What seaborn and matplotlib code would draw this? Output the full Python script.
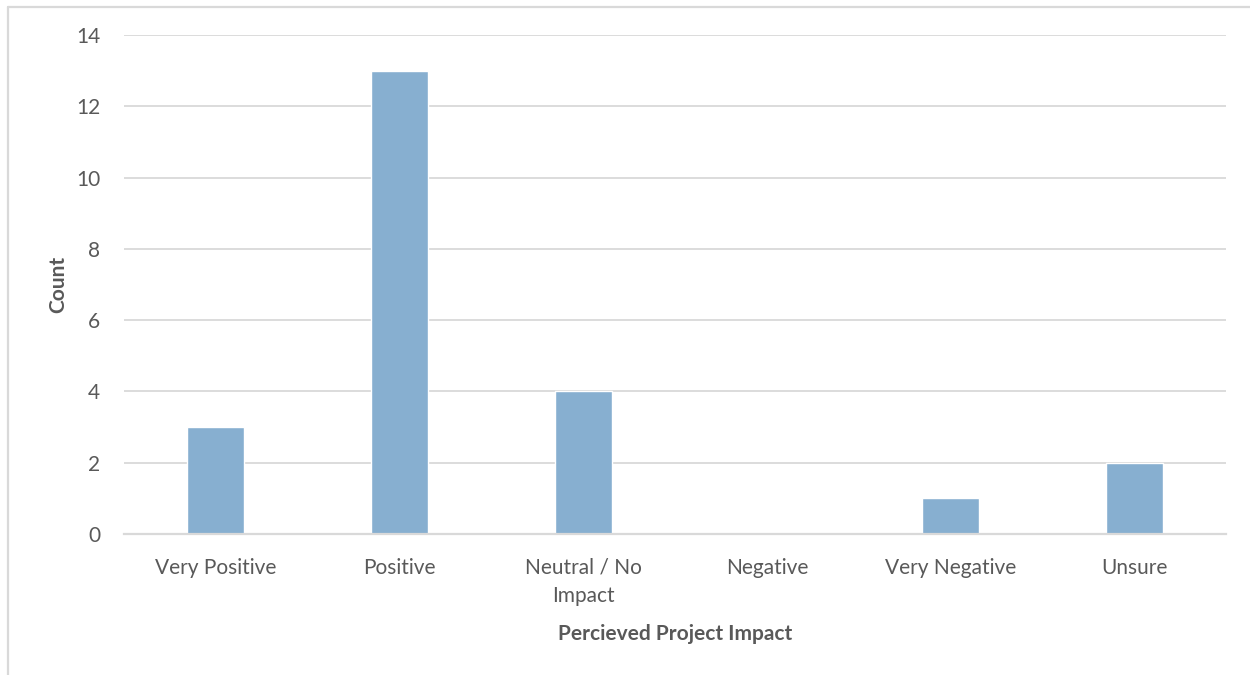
import matplotlib
matplotlib.use("Agg")
import matplotlib.pyplot as plt
from matplotlib.lines import Line2D
import seaborn as sns
import pandas as pd

categories = ["Very Positive", "Positive", "Neutral / No\nImpact", "Negative", "Very Negative", "Unsure"]
counts = [3, 13, 4, 0, 1, 2]
y_ticks = [0, 2, 4, 6, 8, 10, 12, 14]

sns.set_theme(style="white")
plt.rcParams["font.family"] = ["Lato", "DejaVu Sans"]

text_color = "#595959"
grid_color = "#D9D9D9"
bar_color = "#87AFD0"

df = pd.DataFrame({"impact": categories, "count": counts})

fig = plt.figure(figsize=(12.5, 6.75), dpi=100)
ax = fig.add_axes([0.0992, 0.2089, 0.8816, 0.7392])

sns.barplot(data=df, x="impact", y="count", color=bar_color, width=0.31,
            saturation=1, ax=ax, zorder=3)

ax.set_ylim(0, 14)
ax.set_xlim(-0.5, len(categories) - 0.5)
ax.set_yticks(y_ticks)
ax.set_yticklabels([str(t) for t in y_ticks])
ax.yaxis.grid(True, color=grid_color, linewidth=1.3, zorder=0)
ax.xaxis.grid(False)

for side in ["left", "right", "top"]:
    ax.spines[side].set_visible(False)
ax.spines["bottom"].set_color(grid_color)
ax.spines["bottom"].set_linewidth(1.6)
ax.spines["bottom"].set_zorder(4)

ax.tick_params(axis="both", length=0, labelsize=15, labelcolor=text_color)
ax.tick_params(axis="y", pad=17)
ax.tick_params(axis="x", pad=17)
for lbl in ax.get_xticklabels():
    lbl.set_linespacing(1.55)

ax.set_xlabel("Percieved Project Impact", fontsize=15, fontweight="bold",
              color=text_color, labelpad=13)
ax.set_ylabel("Count", fontsize=15, fontweight="bold", color=text_color, labelpad=6)

# outer chart-area frame (left and top edges)
x0, y0 = 7.5 / 1250, 1 - 6.5 / 675
fig.add_artist(Line2D([x0, x0], [0, y0], transform=fig.transFigure,
                      color=grid_color, linewidth=1.6, zorder=10))
fig.add_artist(Line2D([x0, 1], [y0, y0], transform=fig.transFigure,
                      color=grid_color, linewidth=1.6, zorder=10))

fig.savefig("out.png", dpi=100, facecolor="white")
